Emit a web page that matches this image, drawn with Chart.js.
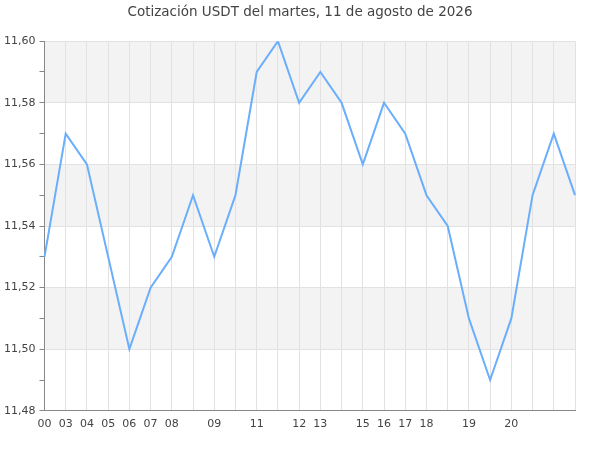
<!DOCTYPE html>
<html>
<head>
<meta charset="utf-8">
<script src="https://cdn.jsdelivr.net/npm/chart.js@4/dist/chart.umd.min.js"></script>
<style>
html,body{margin:0;padding:0;background:#fff;}
#wrap{width:600px;height:450px;}
</style>
</head>
<body>
<div id="wrap"><canvas id="c"></canvas></div>
<script>
const titleText = "Cotización USDT del martes, 11 de agosto de 2026";
const categories = ["00","03","04","05","06","07","08","","09","","11","","12","13","","15","16","17","18","","19","","20","","",""];
const prices = [11.53,11.57,11.56,11.53,11.50,11.52,11.53,11.55,11.53,11.55,11.59,11.60,11.58,11.59,11.58,11.56,11.58,11.57,11.55,11.54,11.51,11.49,11.51,11.55,11.57,11.55];
const yMin = 11.48, yMax = 11.60;

const bandPlugin = {
  id: 'bands',
  beforeDraw(chart) {
    const y = chart.scales.y, a = chart.chartArea, ctx = chart.ctx;
    ctx.save();
    ctx.fillStyle = '#f3f3f3';
    for (let v = 11.50; v < yMax - 0.001; v += 0.04) {
      const top = y.getPixelForValue(v + 0.02), bot = y.getPixelForValue(v);
      ctx.fillRect(a.left, top, a.right - a.left, bot - top);
    }
    ctx.restore();
  }
};

const isMajor = v => Math.round(v * 100) % 2 === 0;

new Chart(document.getElementById('c'), {
  type: 'line',
  data: {
    labels: categories,
    datasets: [{
      data: prices,
      borderColor: '#6aaefc',
      borderWidth: 2,
      pointRadius: 0,
      tension: 0,
      fill: false
    }]
  },
  options: {
    responsive: true,
    maintainAspectRatio: false,
    animation: false,
    layout: { padding: { left: 0, right: 0, top: 0, bottom: 12 } },
    plugins: {
      legend: { display: false },
      tooltip: { enabled: false },
      title: {
        display: true,
        text: titleText,
        color: '#444',
        font: { family: 'DejaVu Sans', size: 13.5, weight: 'normal' },
        padding: { top: 4, bottom: 21 }
      }
    },
    scales: {
      x: {
        offset: false,
        border: { color: '#888', width: 1 },
        grid: { color: '#e2e2e2', drawTicks: false, lineWidth: 1 },
        ticks: {
          autoSkip: false, maxRotation: 0, padding: 7,
          color: '#444', font: { family: 'DejaVu Sans', size: 11 }
        }
      },
      y: {
        min: yMin, max: yMax,
        border: { color: '#888', width: 1 },
        grid: {
          color: c => isMajor(c.tick.value) ? '#e2e2e2' : 'rgba(0,0,0,0)',
          tickColor: '#888',
          tickLength: 5,
          lineWidth: 1
        },
        ticks: {
          stepSize: 0.01,
          padding: 4,
          color: '#444',
          font: { family: 'DejaVu Sans', size: 11 },
          callback: v => isMajor(v) ? v.toFixed(2).replace('.', ',') : ''
        }
      },
      yRight: {
        position: 'right',
        display: true,
        min: yMin, max: yMax,
        border: { display: false },
        grid: { drawOnChartArea: false, drawTicks: false },
        ticks: { display: false },
        afterFit: s => { s.width = 25; }
      }
    }
  },
  plugins: [bandPlugin]
});
</script>
</body>
</html>
